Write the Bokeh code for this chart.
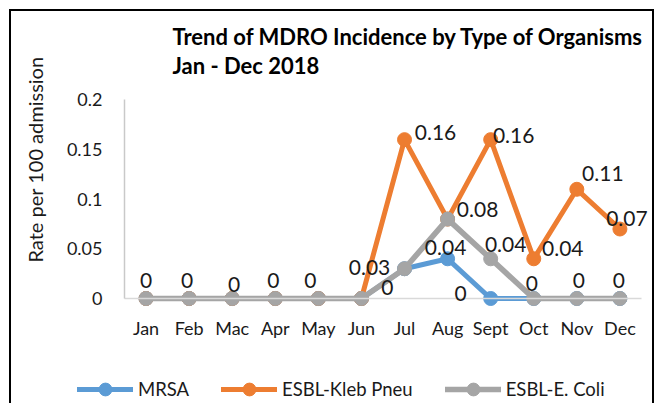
import math
from bokeh.plotting import figure
from bokeh.models import (ColumnDataSource, FixedTicker, Label, LabelSet,
                          Legend, LegendItem)
from bokeh.core.properties import value
from bokeh.embed import file_html
from bokeh.resources import INLINE

# ---------------- data ----------------
months = ["Jan", "Feb", "Mac", "Apr", "May", "Jun", "Jul", "Aug", "Sept", "Oct", "Nov", "Dec"]
mrsa = [0, 0, 0, 0, 0, 0, 0.03, 0.04, 0, 0, 0, 0]
kleb = [0, 0, 0, 0, 0, 0, 0.16, 0.08, 0.16, 0.04, 0.11, 0.07]
ecoli = [0, 0, 0, 0, 0, 0, 0.03, 0.08, 0.04, 0, 0, 0]
series_names = ["MRSA", "ESBL-Kleb Pneu", "ESBL-E. Coli"]
y_ticks = [0, 0.05, 0.1, 0.15, 0.2]
y_tick_labels = ["0", "0.05", "0.1", "0.15", "0.2"]
title_lines = ["Trend of MDRO Incidence by Type of Organisms", "Jan - Dec 2018"]
y_title = "Rate per 100 admission"

# ---------------- styles ----------------
colors = ["#5B9BD5", "#ED7D31", "#A5A5A5"]
widths = [5, 5, 5.6]
FONT = "Lato"
TXT = "#1a1a1a"

series = {"mrsa": mrsa, "kleb": kleb, "ecoli": ecoli}
# which data labels are visible, with pixel offsets (dx right, dy down)
label_specs = [
    ("ecoli", 0, 0, -18), ("ecoli", 1, -2, -18), ("ecoli", 2, 2, -14),
    ("ecoli", 3, -2, -18), ("ecoli", 4, -8, -18),
    ("mrsa", 6, -35, -1), ("kleb", 5, 26, -11),
    ("kleb", 6, 31, -7), ("kleb", 7, 30, -10), ("mrsa", 7, -2, -11),
    ("mrsa", 8, -30, -5), ("ecoli", 8, 15, -14), ("kleb", 8, 23, -4),
    ("kleb", 9, 29, -10), ("ecoli", 9, -2, -15), ("kleb", 10, 26, -16),
    ("kleb", 11, 7, -11), ("ecoli", 10, 2, -18), ("ecoli", 11, -1, -18),
]

W, H = 662, 403
# the frame covers the whole canvas; plot area is 124..641 px wide, 0 at y=298, 0.2 at y=99.5
PX_X = 43.08
PX_Y = 992.8
x0 = -0.5 - 124 / PX_X
y0 = -(H - 298) / PX_Y
p = figure(width=W, height=H, output_backend="svg", toolbar_location=None,
           x_range=(x0, x0 + W / PX_X), y_range=(y0, y0 + H / PX_Y),
           min_border=0)
line_bg = "linear-gradient(#000,#000)"
p.styles = {"background": (f"{line_bg} 9px 9px / 2px 420px no-repeat, "
                           f"{line_bg} 652px 9px / 2px 420px no-repeat, "
                           f"{line_bg} 9px 9px / 645px 2px no-repeat, #fff")}
p.border_fill_color = None
p.background_fill_color = None
p.xgrid.visible = False
p.ygrid.visible = False
p.outline_line_color = None
p.title.visible = False

xs = list(range(len(months)))

# x axis: sits on the zero line and draws the zero baseline
p.xaxis.fixed_location = 0
p.xaxis.bounds = (xs[0] - 0.5, xs[-1] + 0.5)
p.xaxis.ticker = FixedTicker(ticks=xs)
p.xaxis.major_label_overrides = {i: m for i, m in enumerate(months)}
p.xaxis.axis_line_color = "#D9D9D9"
p.xaxis.axis_line_width = 1.5
p.xaxis.major_tick_line_color = None
p.xaxis.major_tick_out = 0
p.xaxis.major_tick_in = 0
p.xaxis.minor_tick_line_color = None
p.xaxis.major_label_standoff = 18
p.xaxis.major_label_text_font = FONT
p.xaxis.major_label_text_font_size = "18px"
p.xaxis.major_label_text_color = TXT

# y axis
p.yaxis.fixed_location = xs[0] - 0.5
p.yaxis.ticker = FixedTicker(ticks=y_ticks)
p.yaxis.major_label_overrides = {t: l for t, l in zip(y_ticks, y_tick_labels)}
p.yaxis.bounds = (y_ticks[0], y_ticks[-1])
p.yaxis.axis_line_color = "#C9C9C9"
p.yaxis.axis_line_width = 1.5
p.yaxis.major_tick_line_color = None
p.yaxis.major_tick_out = 0
p.yaxis.major_tick_in = 0
p.yaxis.minor_tick_line_color = None
p.yaxis.major_label_standoff = 22
p.yaxis.major_label_text_font = FONT
p.yaxis.major_label_text_font_size = "18px"
p.yaxis.major_label_text_color = TXT

items = []
for vals, name, color, lw in zip([mrsa, kleb, ecoli], series_names, colors, widths):
    src = ColumnDataSource(dict(x=xs, y=vals))
    r1 = p.line("x", "y", source=src, line_color=color, line_width=lw,
                line_join="round", line_cap="round")
    r2 = p.scatter("x", "y", source=src, size=14, fill_color=color, line_color=color)
    items.append(LegendItem(label=name, renderers=[r1, r2]))

legend = Legend(items=items, orientation="horizontal", location=(77, -2),
                glyph_width=56, glyph_height=32, label_height=20, label_standoff=5,
                spacing=32, padding=0, margin=0, border_line_alpha=0,
                background_fill_alpha=0, label_text_font=FONT,
                label_text_font_size="18.5px", label_text_color=TXT)
p.add_layout(legend)

# data labels
lx, ly, lt, ldx, ldy = [], [], [], [], []
for key, i, dx, dy in label_specs:
    v = series[key][i]
    lx.append(xs[i]); ly.append(v); lt.append(f"{v:g}")
    ldx.append(dx); ldy.append(-dy)
lsrc = ColumnDataSource(dict(x=lx, y=ly, t=lt, dx=ldx, dy=ldy))
p.add_layout(LabelSet(x="x", y="y", text="t", source=lsrc, x_offset="dx", y_offset="dy",
                      text_align="center", text_baseline="middle",
                      text_font=value(FONT), text_font_size=value("21px"),
                      text_color=TXT))

# title (two lines, left aligned) and y-axis title, positioned in screen px
for line, yy in zip(title_lines, [H - 36, H - 65]):
    p.add_layout(Label(x=172, y=yy, x_units="screen", y_units="screen", text=line,
                       text_font=FONT, text_font_size="22px", text_font_style="bold",
                       text_color="black", text_baseline="alphabetic",
                       text_align="left"))
p.add_layout(Label(x=34, y=H - 159, x_units="screen", y_units="screen", text=y_title,
                   angle=math.pi / 2, text_font=FONT, text_font_size="20px",
                   text_color=TXT, text_baseline="middle", text_align="center"))

open("out.html", "w").write(file_html(p, INLINE))
